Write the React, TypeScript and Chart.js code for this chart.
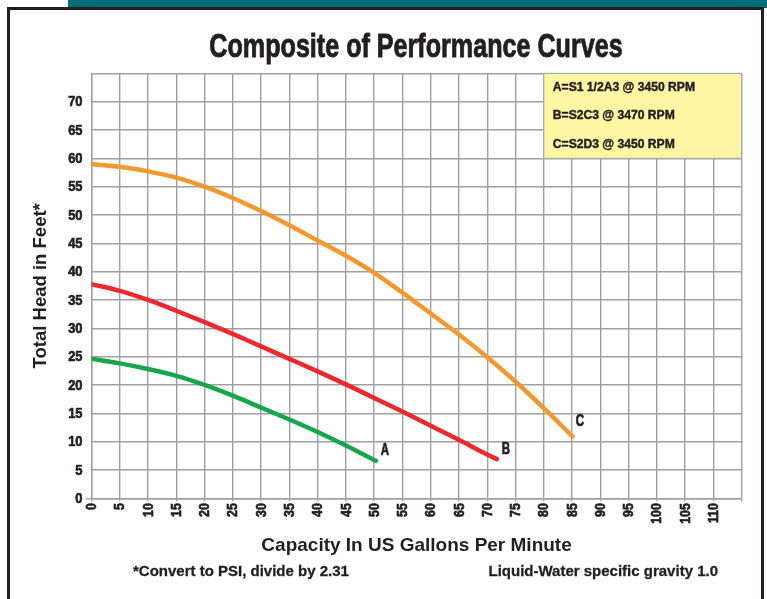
import { useEffect, useRef } from 'react';
import { Chart, registerables } from 'chart.js';

Chart.register(...registerables);

const FONT = '"Liberation Sans", Arial, Helvetica, sans-serif';
const INK = '#231f20';
const GRID = '#a0a0a0';

const chartTitle = 'Composite of Performance Curves';
const xAxisTitle = 'Capacity In US Gallons Per Minute';
const yAxisTitle = 'Total Head in Feet*';
const footnoteLeft = '*Convert to PSI, divide by 2.31';
const footnoteRight = 'Liquid-Water specific gravity 1.0';

const seriesNames = ['A', 'B', 'C'];
const legendLines = ['A=S1 1/2A3 @ 3450 RPM', 'B=S2C3 @ 3470 RPM', 'C=S2D3 @ 3450 RPM'];

const gpmA = [0, 5, 10, 15, 20, 25, 30, 35, 40, 45, 50.3];
const headA = [24.6, 23.8, 22.8, 21.6, 20.0, 18.1, 16.0, 13.9, 11.7, 9.3, 6.6];

const gpmB = [0, 5, 10, 15, 20, 25, 30, 35, 40, 45, 50, 55, 60, 65, 70, 71.7];
const headB = [37.8, 36.6, 35.0, 33.1, 31.1, 29.0, 26.8, 24.6, 22.4, 20.1, 17.7, 15.3, 12.8, 10.3, 7.7, 6.9];

const gpmC = [0, 5, 10, 15, 20, 25, 30, 35, 40, 45, 50, 55, 60, 65, 70, 75, 80, 85.1];
const headC = [59.0, 58.5, 57.7, 56.6, 55.0, 53.0, 50.7, 48.2, 45.5, 42.8, 39.8, 36.3, 32.6, 28.9, 24.9, 20.6, 15.9, 10.9];

// curve end labels (data coordinates)
const endLabelGpm = [51.9, 73.3, 86.4];
const endLabelHead = [8.4, 8.5, 13.6];

// axis ranges / tick labels
const xMin = 0;
const xMax = 115;
const xLastLabel = 110;
const yMin = 0;
const yMax = 75;
const yLastLabel = 70;
const tickStep = 5;

// legend box extent (data coordinates)
const legendGpmRange = [80, 115];
const legendHeadRange = [60, 75];
const legendTextGpm = 81.6;
const legendRowHead = [72.5, 67.5, 62.5];

const colors = ['#17a64b', '#ec2a2e', '#f4982f'];

function condensedText(ctx: any, text: string, x: number, y: number, sx: number, align: string, rot: number, stroke: number) {
  ctx.save();
  ctx.translate(x, y);
  if (rot) ctx.rotate(rot);
  ctx.scale(sx, 1);
  ctx.textAlign = align;
  ctx.fillText(text, 0, 0);
  if (stroke > 0) {
    ctx.lineWidth = stroke;
    ctx.lineJoin = 'round';
    ctx.strokeStyle = INK;
    ctx.strokeText(text, 0, 0);
  }
  ctx.restore();
}

const annotate = {
  id: 'annotate',
  beforeDatasetsDraw(chart: any) {
    const { ctx, scales } = chart;
    const x = scales.x;
    const y = scales.y;
    const l = x.getPixelForValue(legendGpmRange[0]);
    const r = x.getPixelForValue(legendGpmRange[1]);
    const t = y.getPixelForValue(legendHeadRange[1]);
    const b = y.getPixelForValue(legendHeadRange[0]);
    ctx.save();
    ctx.fillStyle = '#fff6a3';
    ctx.fillRect(l, t, r - l, b - t);
    ctx.strokeStyle = '#aaaaaa';
    ctx.lineWidth = 1.2;
    ctx.strokeRect(l, t, r - l, b - t);
    ctx.fillStyle = INK;
    ctx.font = `bold 12.5px ${FONT}`;
    ctx.textBaseline = 'middle';
    legendLines.forEach((s, i) => {
      condensedText(ctx, s, x.getPixelForValue(legendTextGpm), y.getPixelForValue(legendRowHead[i]), 0.97, 'left', 0, 0.45);
    });

    // tick labels (condensed)
    ctx.font = `bold 15px ${FONT}`;
    ctx.textBaseline = 'middle';
    const area = chart.chartArea;
    y.ticks.forEach((tk: any) => {
      if (tk.value > yLastLabel) return;
      condensedText(ctx, String(tk.value), area.left - 9, y.getPixelForValue(tk.value) + 0.5, 0.86, 'right', 0, 0.7);
    });
    x.ticks.forEach((tk: any) => {
      if (tk.value > xLastLabel) return;
      condensedText(ctx, String(tk.value), x.getPixelForValue(tk.value) + 0.5, area.bottom + 5, 0.82, 'right', -Math.PI / 2, 0.7);
    });
    ctx.restore();
  },
  afterDatasetsDraw(chart: any) {
    const { ctx, scales } = chart;
    ctx.save();
    ctx.fillStyle = INK;
    ctx.font = `bold 16px ${FONT}`;
    ctx.textBaseline = 'middle';
    seriesNames.forEach((s, i) => {
      condensedText(ctx, s, scales.x.getPixelForValue(endLabelGpm[i]), scales.y.getPixelForValue(endLabelHead[i]), 0.72, 'center', 0, 0.7);
    });
    ctx.restore();
  },
};

function toPoints(xs: number[], ys: number[]) {
  return xs.map((v, i) => ({ x: v, y: ys[i] }));
}

export default function App() {
  const ref = useRef<HTMLCanvasElement | null>(null);

  useEffect(() => {
    if (!ref.current) return;
    const series = [toPoints(gpmA, headA), toPoints(gpmB, headB), toPoints(gpmC, headC)];
    const chart = new Chart(ref.current, {
      type: 'line',
      data: {
        datasets: series.map((d, i) => ({
          label: seriesNames[i],
          data: d,
          borderColor: colors[i],
          borderWidth: 4.5,
          borderCapStyle: 'round',
          borderJoinStyle: 'round',
          pointRadius: 0,
          fill: false,
          cubicInterpolationMode: 'monotone',
        })),
      },
      options: {
        animation: false,
        responsive: false,
        events: [],
        layout: { padding: { left: 25.5, right: 25.4, top: 73.4, bottom: 38 } },
        plugins: { legend: { display: false }, tooltip: { enabled: false }, title: { display: false } },
        scales: {
          x: {
            type: 'linear',
            min: xMin,
            max: xMax,
            afterFit: (s: any) => { s.height = 62.8; },
            ticks: { stepSize: tickStep, autoSkip: false, display: false },
            grid: { color: GRID, lineWidth: 1.4, tickLength: 3, tickColor: GRID },
            border: { color: GRID, width: 1.4 },
            title: {
              display: true,
              text: xAxisTitle,
              color: INK,
              font: { family: FONT, size: 19, weight: 'bold' },
            },
          },
          y: {
            type: 'linear',
            min: yMin,
            max: yMax,
            afterFit: (s: any) => { s.width = 66; },
            ticks: { stepSize: tickStep, display: false },
            grid: {
              color: GRID,
              lineWidth: 1.4,
              tickLength: 6,
              tickColor: (c: any) => (c.tick && c.tick.value === 0 ? GRID : 'rgba(0,0,0,0)'),
            },
            border: { color: GRID, width: 1.4 },
            title: {
              display: true,
              text: yAxisTitle,
              color: INK,
              font: { family: FONT, size: 18.5, weight: 'bold' },
            },
          },
        },
      } as any,
      plugins: [annotate],
    });
    return () => chart.destroy();
  }, []);

  const textBase: any = {
    position: 'absolute',
    fontFamily: FONT,
    fontWeight: 'bold',
    color: INK,
    lineHeight: 1,
    whiteSpace: 'nowrap',
  };

  return (
    <div style={{ position: 'absolute', left: 0, top: 0, width: 767, height: 599, background: '#fff', overflow: 'hidden' }}>
      <div style={{ position: 'absolute', left: 68, top: 0, width: 699, height: 8, background: '#006e7a' }} />
      <div style={{ position: 'absolute', left: 7, top: 7, width: 751, height: 620, border: '3px solid #231f20', boxSizing: 'content-box' }} />
      <canvas ref={ref} width={767} height={599} style={{ position: 'absolute', left: 0, top: 0, width: 767, height: 599 }} />
      <div style={{ ...textBase, left: 416, top: 28.6, fontSize: 33.5, WebkitTextStroke: '0.9px #231f20', transform: 'translateX(-50%) scaleX(0.75)' }}>{chartTitle}</div>
      <div style={{ ...textBase, left: 133, top: 562.8, fontSize: 15, WebkitTextStroke: '0.3px #231f20' }}>{footnoteLeft}</div>
      <div style={{ ...textBase, right: 49, top: 562.8, fontSize: 15, WebkitTextStroke: '0.3px #231f20' }}>{footnoteRight}</div>
    </div>
  );
}
